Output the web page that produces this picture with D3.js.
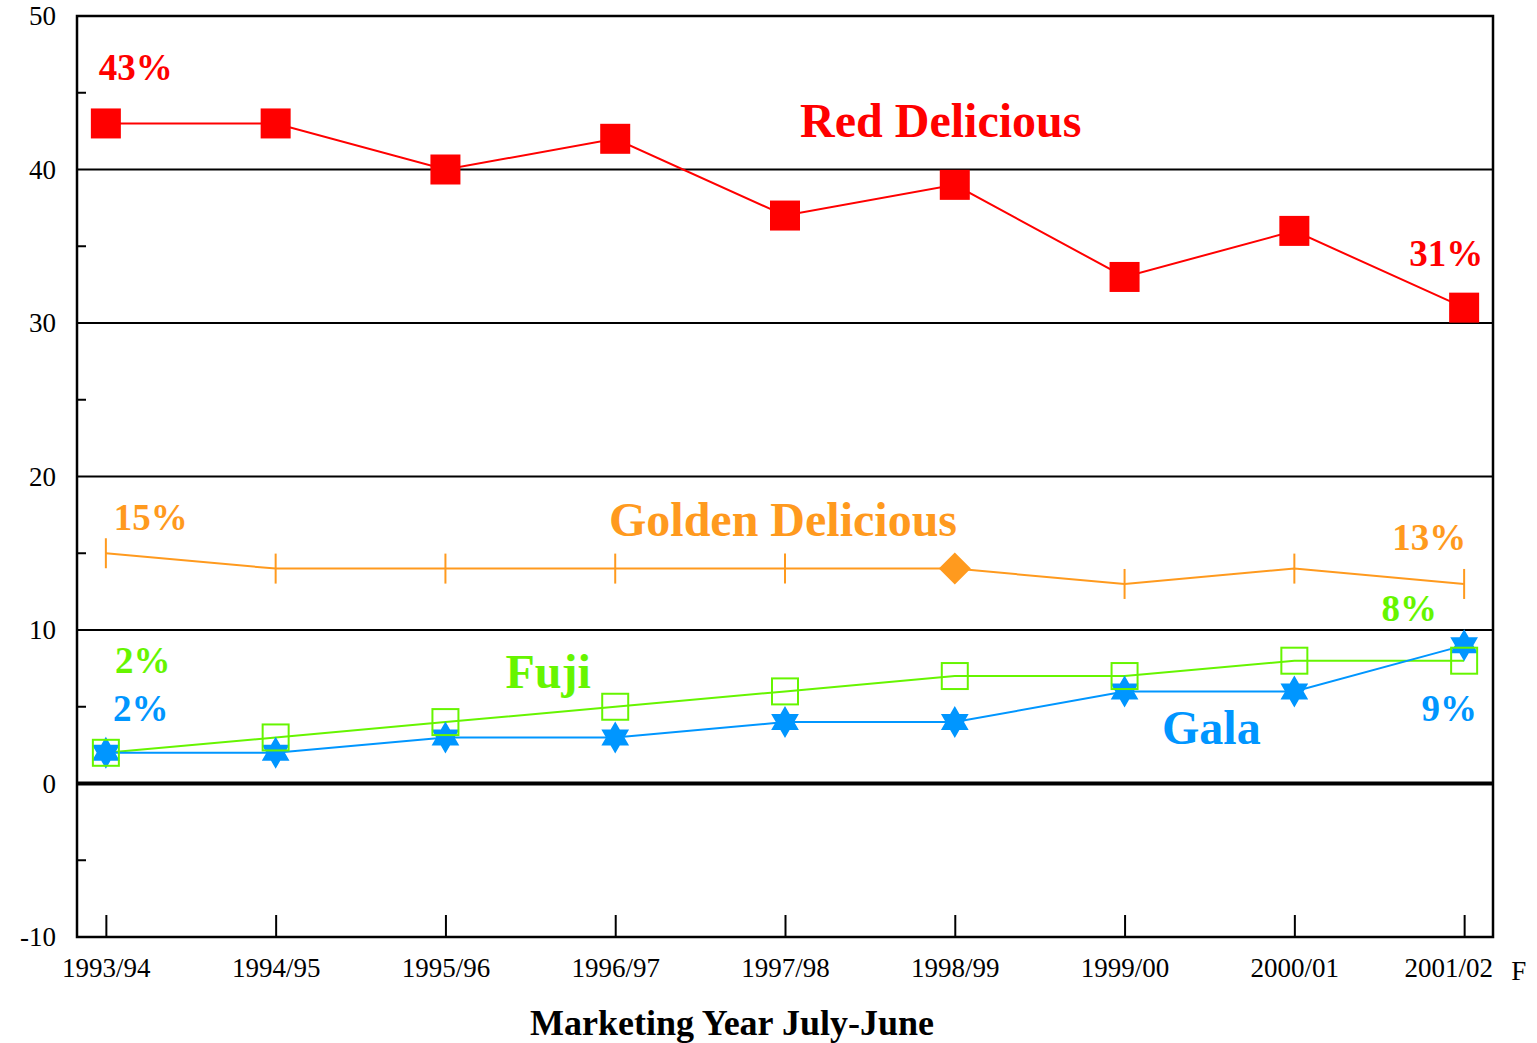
<!DOCTYPE html>
<html>
<head>
<meta charset="utf-8">
<script src="https://cdn.jsdelivr.net/npm/d3@7"></script>
<style>
  html, body { margin: 0; padding: 0; background: #fff; }
  svg { display: block; }
  text { font-family: "Liberation Serif", "Times New Roman", serif; }
</style>
</head>
<body>
<svg id="chart" width="1537" height="1043"></svg>
<script>
// Marketing years and variety shares (percent of US apple production)
const years = ["1993/94", "1994/95", "1995/96", "1996/97", "1997/98", "1998/99", "1999/00", "2000/01", "2001/02"];
const redDelicious    = [43, 43, 40, 42, 37, 39, 33, 36, 31];
const goldenDelicious = [15, 14, 14, 14, 14, 14, 13, 14, 13];
const fuji            = [2, 3, 4, 5, 6, 7, 7, 8, 8];
const gala            = [2, 2, 3, 3, 4, 4, 6, 6, 9];
const yTicks = [-10, 0, 10, 20, 30, 40, 50];
const yMinorTicks = [-5, 5, 15, 25, 35, 45];

const colors = { red: "#ff0000", golden: "#ff9a1e", fuji: "#66f500", gala: "#0096ff" };

const svg = d3.select("#chart");
const m = { left: 77, top: 16, right: 44, bottom: 106 };
const W = 1537, H = 1043;
const x0 = m.left, x1 = W - m.right, y0 = m.top, y1 = H - m.bottom;

const x = d3.scalePoint().domain(years).range([x0, x1]).padding(0.17);
const y = d3.scaleLinear().domain([-10, 50]).range([y1, y0]);

// Horizontal gridlines
svg.append("g").selectAll("line")
  .data(yTicks.filter(t => t > -10 && t < 50))
  .join("line")
  .attr("x1", x0).attr("x2", x1)
  .attr("y1", d => y(d)).attr("y2", d => y(d))
  .attr("stroke", "#000")
  .attr("stroke-width", d => d === 0 ? 4 : 2);

// Left axis: labels and minor ticks
const yAxis = d3.axisLeft(y).tickValues(yTicks).tickSize(0).tickPadding(21).tickFormat(d => String(d));
const gy = svg.append("g").attr("transform", `translate(${x0},0)`).call(yAxis);
gy.select(".domain").remove();
gy.selectAll("text").attr("font-size", 27).attr("fill", "#000");

svg.append("g").selectAll("line")
  .data(yMinorTicks)
  .join("line")
  .attr("x1", x0).attr("x2", x0 + 9)
  .attr("y1", d => y(d)).attr("y2", d => y(d))
  .attr("stroke", "#000").attr("stroke-width", 2);

// Bottom axis: inward ticks and year labels
const xAxis = d3.axisBottom(x).tickSize(-22).tickPadding(21);
const gx = svg.append("g").attr("transform", `translate(0,${y1})`).call(xAxis);
gx.select(".domain").remove();
gx.selectAll(".tick line").attr("stroke", "#000").attr("stroke-width", 2);
gx.selectAll("text").attr("font-size", 27).attr("fill", "#000");
// Final (forecast) year label sits left of its tick, followed by "F"
gx.selectAll(".tick text").filter(d => d === years[years.length - 1]).attr("dx", -16);
svg.append("text")
  .attr("x", x(years[years.length - 1]) + 47).attr("y", y1 + 43)
  .attr("font-size", 27).text("F");

// Plot frame
svg.append("rect")
  .attr("x", x0).attr("y", y0).attr("width", x1 - x0).attr("height", y1 - y0)
  .attr("fill", "none").attr("stroke", "#000").attr("stroke-width", 2.5);

// Axis title
svg.append("text")
  .attr("x", 732).attr("y", 1035)
  .attr("text-anchor", "middle").attr("font-size", 36).attr("font-weight", "bold")
  .text("Marketing Year July-June");

const line = d3.line().x((d, i) => x(years[i])).y(d => y(d));

function drawLine(values, color) {
  svg.append("path").datum(values)
    .attr("d", line).attr("fill", "none")
    .attr("stroke", color).attr("stroke-width", 2);
}

// Six-pointed star path
function starPath(r) {
  const pts = [];
  for (let i = 0; i < 12; i++) {
    const a = -Math.PI / 2 + i * Math.PI / 6;
    const rr = i % 2 === 0 ? r : r * 0.577;
    pts.push([rr * Math.cos(a), rr * Math.sin(a)]);
  }
  return "M" + pts.map(p => p.join(",")).join("L") + "Z";
}

// Red Delicious
drawLine(redDelicious, colors.red);
svg.append("g").selectAll("rect").data(redDelicious).join("rect")
  .attr("x", (d, i) => x(years[i]) - 15).attr("y", d => y(d) - 15)
  .attr("width", 30).attr("height", 30).attr("fill", colors.red);

// Golden Delicious: vertical bar markers, diamond on 1998/99
drawLine(goldenDelicious, colors.golden);
const goldenPts = goldenDelicious.map((v, i) => ({ year: years[i], v }));
svg.append("g").selectAll("line")
  .data(goldenPts.filter(p => p.year !== "1998/99"))
  .join("line")
  .attr("x1", p => x(p.year)).attr("x2", p => x(p.year))
  .attr("y1", p => y(p.v) - 15).attr("y2", p => y(p.v) + 15)
  .attr("stroke", colors.golden).attr("stroke-width", 2);
svg.append("g").selectAll("path")
  .data(goldenPts.filter(p => p.year === "1998/99"))
  .join("path")
  .attr("d", "M0,-16L16,0L0,16L-16,0Z")
  .attr("transform", p => `translate(${x(p.year)},${y(p.v)})`)
  .attr("fill", colors.golden);

// Fuji line
drawLine(fuji, colors.fuji);

// Gala: stars
drawLine(gala, colors.gala);
svg.append("g").selectAll("path").data(gala).join("path")
  .attr("d", starPath(16))
  .attr("transform", (d, i) => `translate(${x(years[i])},${y(d)})`)
  .attr("fill", colors.gala);

// Fuji: open squares
svg.append("g").selectAll("rect").data(fuji).join("rect")
  .attr("x", (d, i) => x(years[i]) - 13).attr("y", d => y(d) - 13)
  .attr("width", 26).attr("height", 26)
  .attr("fill", "none").attr("stroke", colors.fuji).attr("stroke-width", 2);

// Series names and end-point value labels
const last = years.length - 1;
const labels = [
  { text: "Red Delicious", xi: 5, dx: -14, v: 42.1, color: colors.red, size: 48 },
  { text: `${redDelicious[0]}%`, xi: 0, dx: 30, v: 45.8, color: colors.red, size: 37 },
  { text: `${redDelicious[last]}%`, xi: last, dx: -18, v: 33.7, color: colors.red, size: 37 },
  { text: "Golden Delicious", xi: 4, dx: -2, v: 16.15, color: colors.golden, size: 48 },
  { text: `${goldenDelicious[0]}%`, xi: 0, dx: 45, v: 16.5, color: colors.golden, size: 37 },
  { text: `${goldenDelicious[last]}%`, xi: last, dx: -35, v: 15.2, color: colors.golden, size: 37 },
  { text: "Fuji", xi: 3, dx: -67, v: 6.2, color: colors.fuji, size: 48 },
  { text: `${fuji[0]}%`, xi: 0, dx: 37, v: 7.2, color: colors.fuji, size: 37 },
  { text: `${fuji[last]}%`, xi: last, dx: -55, v: 10.6, color: colors.fuji, size: 37 },
  { text: "Gala", xi: 7, dx: -83, v: 2.6, color: colors.gala, size: 48 },
  { text: `${gala[0]}%`, xi: 0, dx: 35, v: 4.1, color: colors.gala, size: 37 },
  { text: `${gala[last]}%`, xi: last, dx: -15, v: 4.1, color: colors.gala, size: 37 }
];
svg.append("g").selectAll("text").data(labels).join("text")
  .attr("x", d => x(years[d.xi]) + d.dx)
  .attr("y", d => y(d.v))
  .attr("text-anchor", "middle")
  .attr("font-size", d => d.size)
  .attr("font-weight", "bold")
  .attr("fill", d => d.color)
  .text(d => d.text);
</script>
</body>
</html>
